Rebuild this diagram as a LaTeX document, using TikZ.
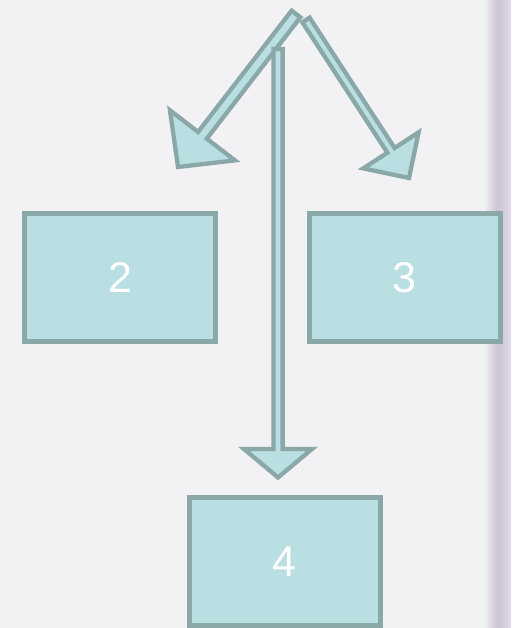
\documentclass[tikz,border=0pt]{standalone}
\usepackage{fontspec}
\setmainfont{Liberation Sans}
\usetikzlibrary{calc}
\definecolor{fond}{HTML}{F2F1F4}
\definecolor{turq}{HTML}{B9DFE2}
\definecolor{bord}{HTML}{8AA8A8}
\definecolor{mauve}{HTML}{CBC2D4}
\definecolor{lilas}{HTML}{E2DAEA}
% fleche creuse : depart, pointe, demi-largeur du corps, demi-largeur de la tete, longueur de la tete
\newcommand{\flechecreuse}[5]{%
 \coordinate (base) at ($(#2)!#5!(#1)$);
 \draw[bloc] ($(#1)!#3!-90:(#2)$) -- ($(base)!#3!90:(#1)$) -- ($(base)!#4!90:(#1)$) -- (#2)
  -- ($(base)!#4!-90:(#1)$) -- ($(base)!#3!-90:(#1)$) -- ($(#1)!#3!90:(#2)$) -- cycle;
}

\begin{document}
\begin{tikzpicture}[x=1pt,y=-1pt]
 \tikzstyle{boite}=[rectangle,draw=bord,fill=turq,line width=5pt,minimum width=191pt,minimum height=128pt,text=white,font=\fontsize{43}{43}\selectfont]
 \tikzstyle{bloc}=[draw=bord,fill=turq,line width=4.3pt,line join=miter]
 %
 \useasboundingbox (0,0) rectangle (511,628);
 \fill[fond] (0,0) rectangle (511,628);
 \shade[left color=fond,right color=lilas,middle color=mauve] (484,0) rectangle (511,628);
 %
 \node[boite] (b2) at (120,277.5) {2};
 \node[boite] (b3) at (404.5,277.5) {3};
 \node[boite] (b4) at (284.5,561.5) {4};
 %
 \coordinate (haut) at (296,14);
 \coordinate (pg) at (178,167);
 \coordinate (hd) at (306,20);
 \coordinate (pd) at (409,178);
 \coordinate (hv) at (278,49);
 \coordinate (pv) at (278,477.5);
 %
 \flechecreuse{hd}{pd}{4.3pt}{33pt}{33pt}
 \flechecreuse{haut}{pg}{5.5pt}{41pt}{40pt}
 \flechecreuse{hv}{pv}{4.6pt}{34pt}{28.5pt}
\end{tikzpicture}
\end{document}
